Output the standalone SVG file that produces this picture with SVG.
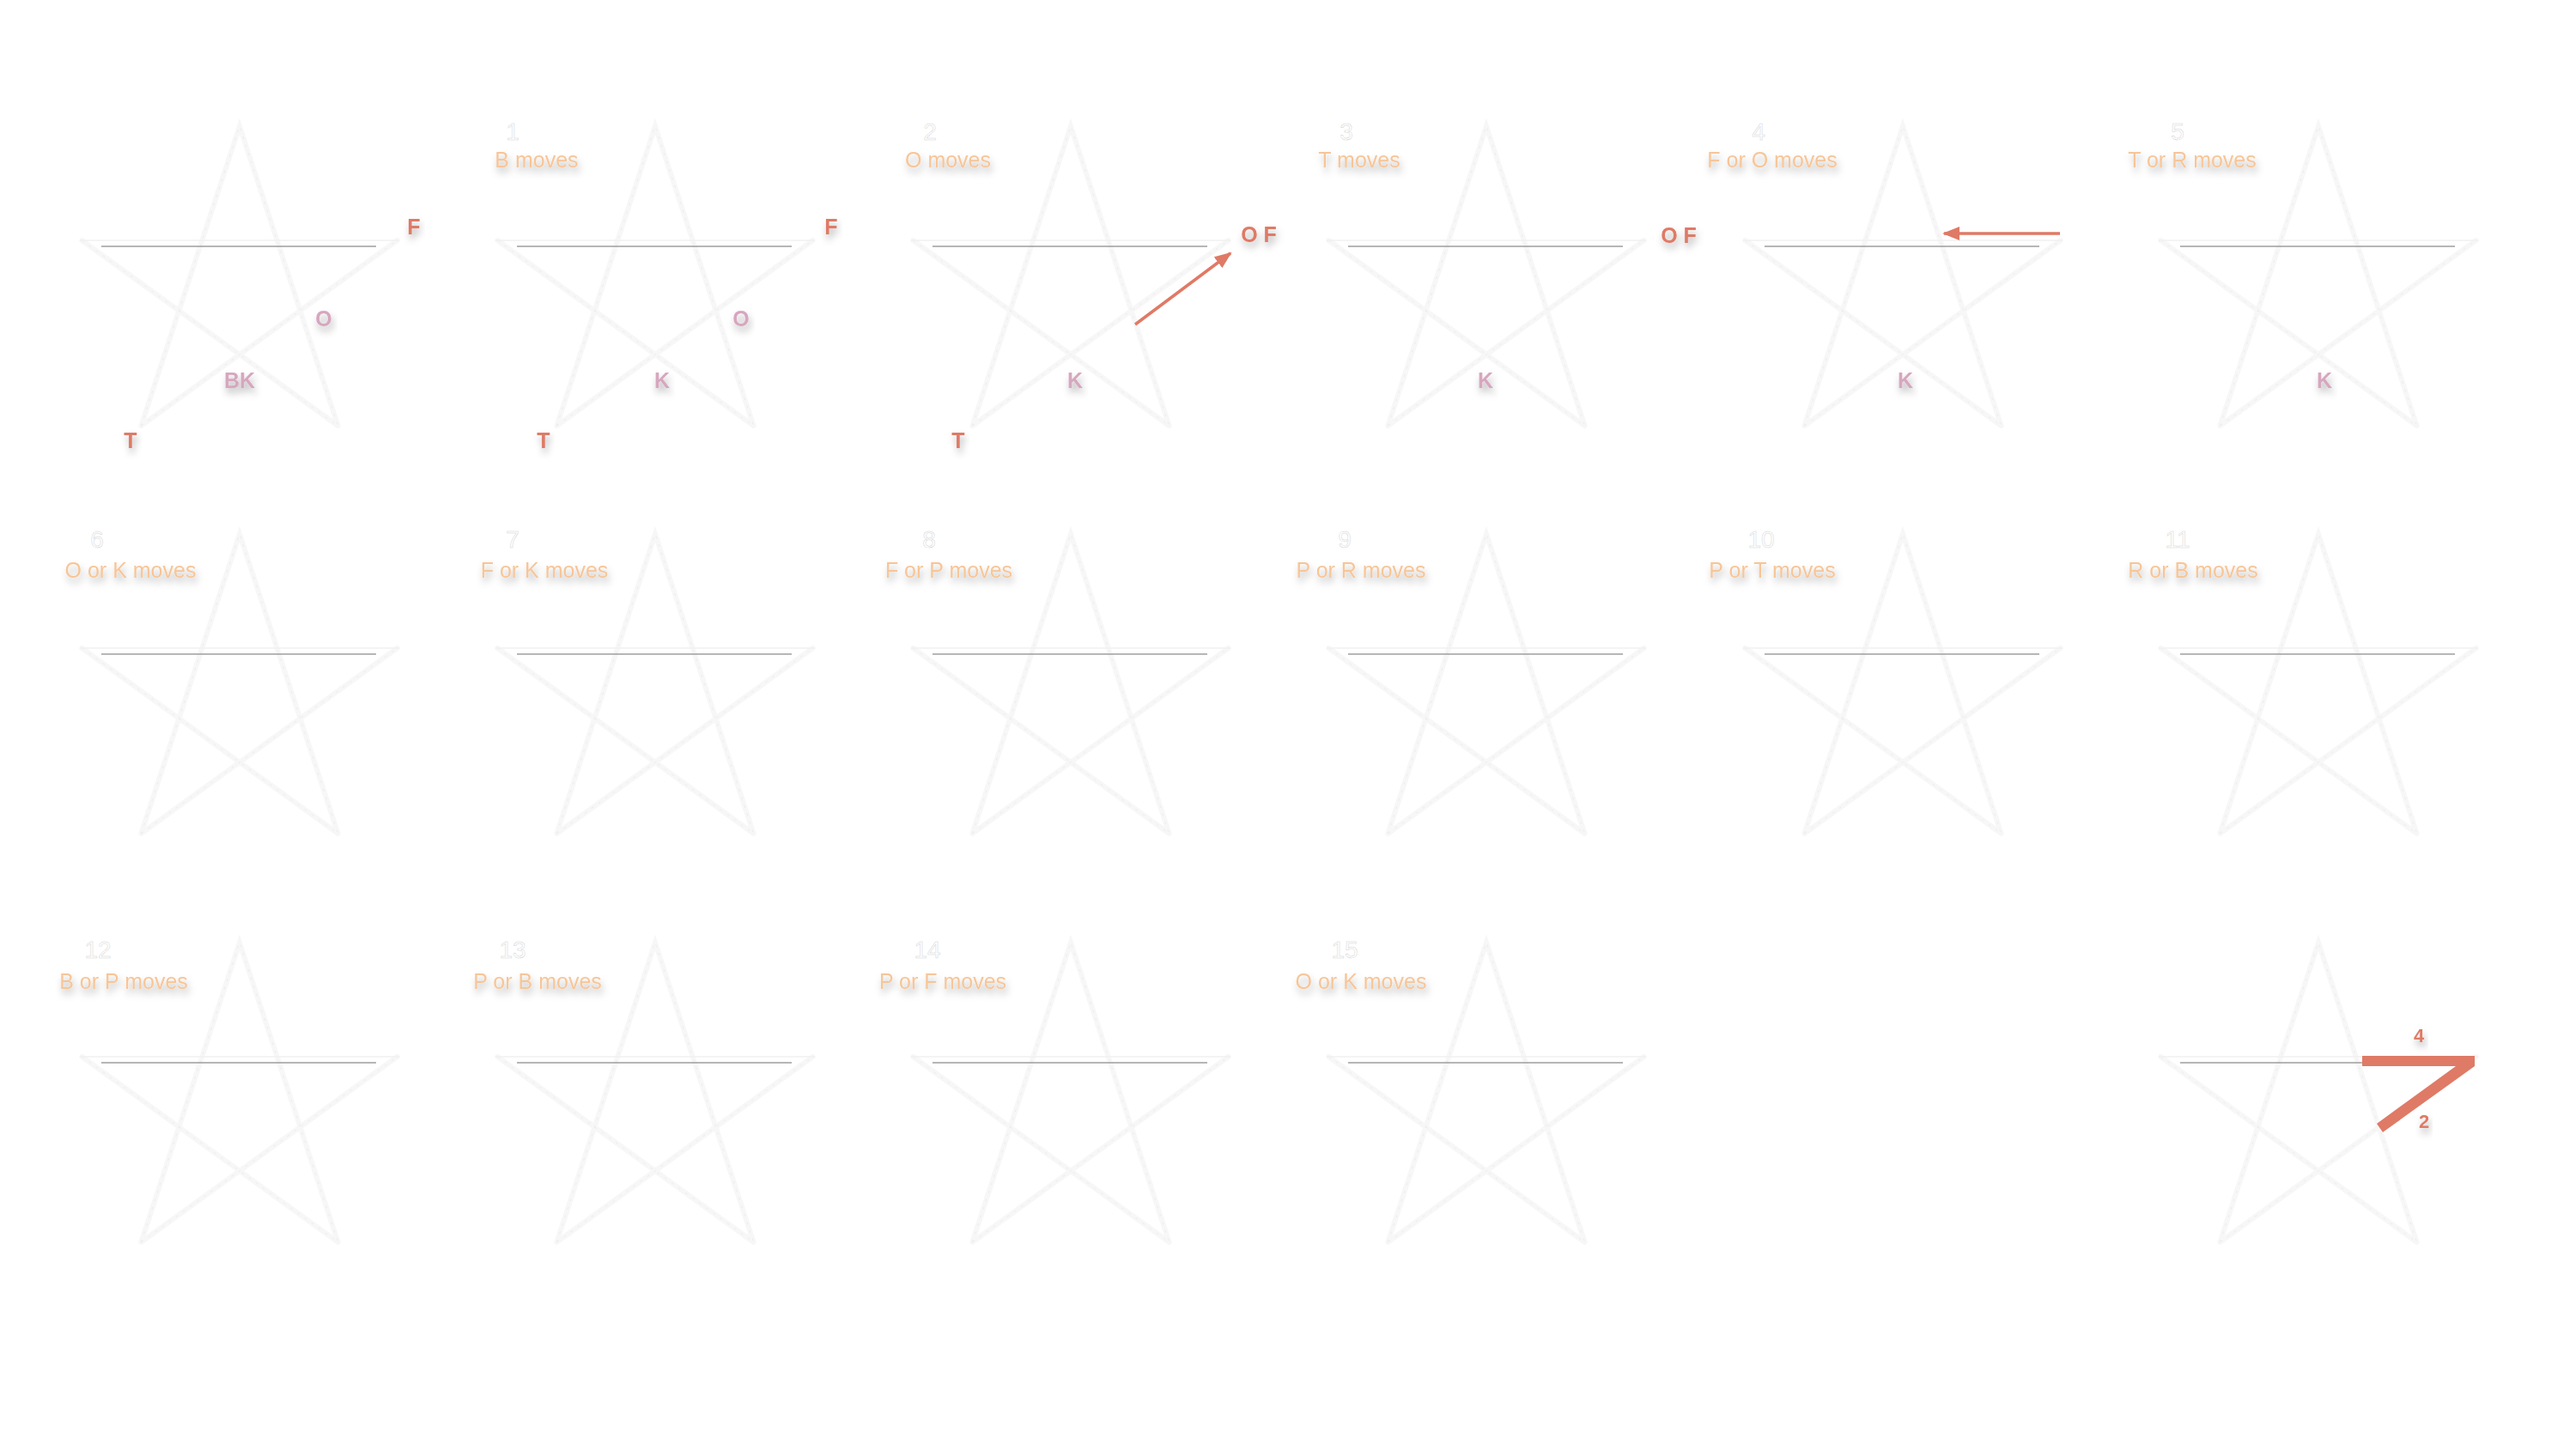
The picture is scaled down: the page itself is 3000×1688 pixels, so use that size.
<svg xmlns="http://www.w3.org/2000/svg" xmlns:xlink="http://www.w3.org/1999/xlink" width="3000" height="1688" viewBox="0 0 3000 1688">
<style>
  .lbl{font-family:"Liberation Sans",Arial,sans-serif;font-size:25px;fill:#f7c597;text-anchor:middle;filter:url(#sh)}
  .num{font-family:"Liberation Sans",Arial,sans-serif;font-size:28px;fill:#ffffff;stroke:#d4d4d4;stroke-width:0.5;text-anchor:middle}
  .red{font-family:"Liberation Sans",Arial,sans-serif;font-size:25px;font-weight:bold;fill:#df7a66;text-anchor:middle;filter:url(#sh)}
  .pink{font-family:"Liberation Sans",Arial,sans-serif;font-size:25px;font-weight:bold;fill:#d7a6bf;text-anchor:middle;filter:url(#sh)}
  .arr{stroke:#df7a66;stroke-width:3.5;fill:none}
  .sl{stroke:#f7f7f7;stroke-width:6;fill:none;stroke-linecap:round}
  .slt{stroke:#e9e9e9;stroke-width:0.8;fill:none;stroke-dasharray:3 7}
  .hz{stroke:#f1f1f1;stroke-width:1.5}
  .gl{stroke:#9e9e9e;stroke-width:1.3}
</style>
<defs>
  <filter id="sh" x="-30%" y="-60%" width="160%" height="240%">
    <feDropShadow dx="2" dy="6" stdDeviation="4" flood-color="#000" flood-opacity="0.3"/>
  </filter>
  <marker id="ah" viewBox="0 0 20 16" refX="18" refY="8" markerWidth="20" markerHeight="16" markerUnits="userSpaceOnUse" orient="auto">
    <path d="M0,0 L20,8 L0,16 z" fill="#df7a66"/>
  </marker>
  <g id="star">
    <path class="sl" d="M-114.6,156 L0,-193 L114.6,156 M-114.6,156 L183.6,-60 M-183.6,-60 L114.6,156"/>
    <path class="slt" d="M-114.6,156 L0,-193 L114.6,156 M-114.6,156 L183.6,-60 M-183.6,-60 L114.6,156"/>
    <line class="hz" x1="-186" y1="-60" x2="186" y2="-60"/>
    <line class="gl" x1="-161" y1="-53" x2="159" y2="-53"/>
  </g>
</defs>
<rect width="3000" height="1688" fill="#ffffff"/>

<g id="stars">
  <g id="s0"><use xlink:href="#star" x="279" y="340"/></g>
  <g id="s1"><use xlink:href="#star" x="763" y="340"/><text class="num" x="597" y="163">1</text><text class="lbl" x="625" y="195">B moves</text></g>
  <g id="s2"><use xlink:href="#star" x="1247" y="340"/><text class="num" x="1083" y="163">2</text><text class="lbl" x="1104" y="195">O moves</text></g>
  <g id="s3"><use xlink:href="#star" x="1731" y="340"/><text class="num" x="1568" y="163">3</text><text class="lbl" x="1583" y="195">T moves</text></g>
  <g id="s4"><use xlink:href="#star" x="2216" y="340"/><text class="num" x="2048" y="163">4</text><text class="lbl" x="2064" y="195">F or O moves</text></g>
  <g id="s5"><use xlink:href="#star" x="2700" y="340"/><text class="num" x="2536" y="163">5</text><text class="lbl" x="2553" y="195">T or R moves</text></g>

  <g id="s6"><use xlink:href="#star" x="279" y="815"/><text class="num" x="113" y="638">6</text><text class="lbl" x="152" y="673">O or K moves</text></g>
  <g id="s7"><use xlink:href="#star" x="763" y="815"/><text class="num" x="597" y="638">7</text><text class="lbl" x="634" y="673">F or K moves</text></g>
  <g id="s8"><use xlink:href="#star" x="1247" y="815"/><text class="num" x="1082" y="638">8</text><text class="lbl" x="1105" y="673">F or P moves</text></g>
  <g id="s9"><use xlink:href="#star" x="1731" y="815"/><text class="num" x="1566" y="638">9</text><text class="lbl" x="1585" y="673">P or R moves</text></g>
  <g id="s10"><use xlink:href="#star" x="2216" y="815"/><text class="num" x="2051" y="638">10</text><text class="lbl" x="2064" y="673">P or T moves</text></g>
  <g id="s11"><use xlink:href="#star" x="2700" y="815"/><text class="num" x="2536" y="638">11</text><text class="lbl" x="2554" y="673">R or B moves</text></g>

  <g id="s12"><use xlink:href="#star" x="279" y="1291"/><text class="num" x="114" y="1116">12</text><text class="lbl" x="144" y="1152">B or P moves</text></g>
  <g id="s13"><use xlink:href="#star" x="763" y="1291"/><text class="num" x="597" y="1116">13</text><text class="lbl" x="626" y="1152">P or B moves</text></g>
  <g id="s14"><use xlink:href="#star" x="1247" y="1291"/><text class="num" x="1080" y="1116">14</text><text class="lbl" x="1098" y="1152">P or F moves</text></g>
  <g id="s15"><use xlink:href="#star" x="1731" y="1291"/><text class="num" x="1566" y="1116">15</text><text class="lbl" x="1585" y="1152">O or K moves</text></g>
  <g id="s16"><use xlink:href="#star" x="2700" y="1291"/></g>
</g>

<g id="pieces">
  <text class="red" x="482" y="273">F</text>
  <text class="pink" x="377" y="380">O</text>
  <text class="pink" x="279" y="452">BK</text>
  <text class="red" x="152" y="522">T</text>

  <text class="red" x="968" y="273">F</text>
  <text class="pink" x="863" y="380">O</text>
  <text class="pink" x="771" y="452">K</text>
  <text class="red" x="633" y="522">T</text>

  <text class="red" x="1466" y="282">O F</text>
  <text class="pink" x="1252" y="452">K</text>
  <text class="red" x="1116" y="522">T</text>

  <text class="red" x="1955" y="283">O F</text>
  <text class="pink" x="1730" y="452">K</text>

  <text class="pink" x="2219" y="452">K</text>
  <text class="pink" x="2707" y="452">K</text>

  <polygon points="2751,1230 2882,1230 2882,1242 2775,1319 2768,1309 2860,1242 2751,1242" fill="#df7a66"/>
  <text class="red" x="2817" y="1214" style="font-size:22px">4</text>
  <text class="red" x="2823" y="1314" style="font-size:22px">2</text>
</g>

<g id="connectors">
  <line class="arr" x1="1322" y1="378" x2="1433" y2="295" marker-end="url(#ah)"/>
  <line class="arr" x1="2399" y1="272" x2="2264" y2="272" marker-end="url(#ah)"/>
</g>
</svg>
